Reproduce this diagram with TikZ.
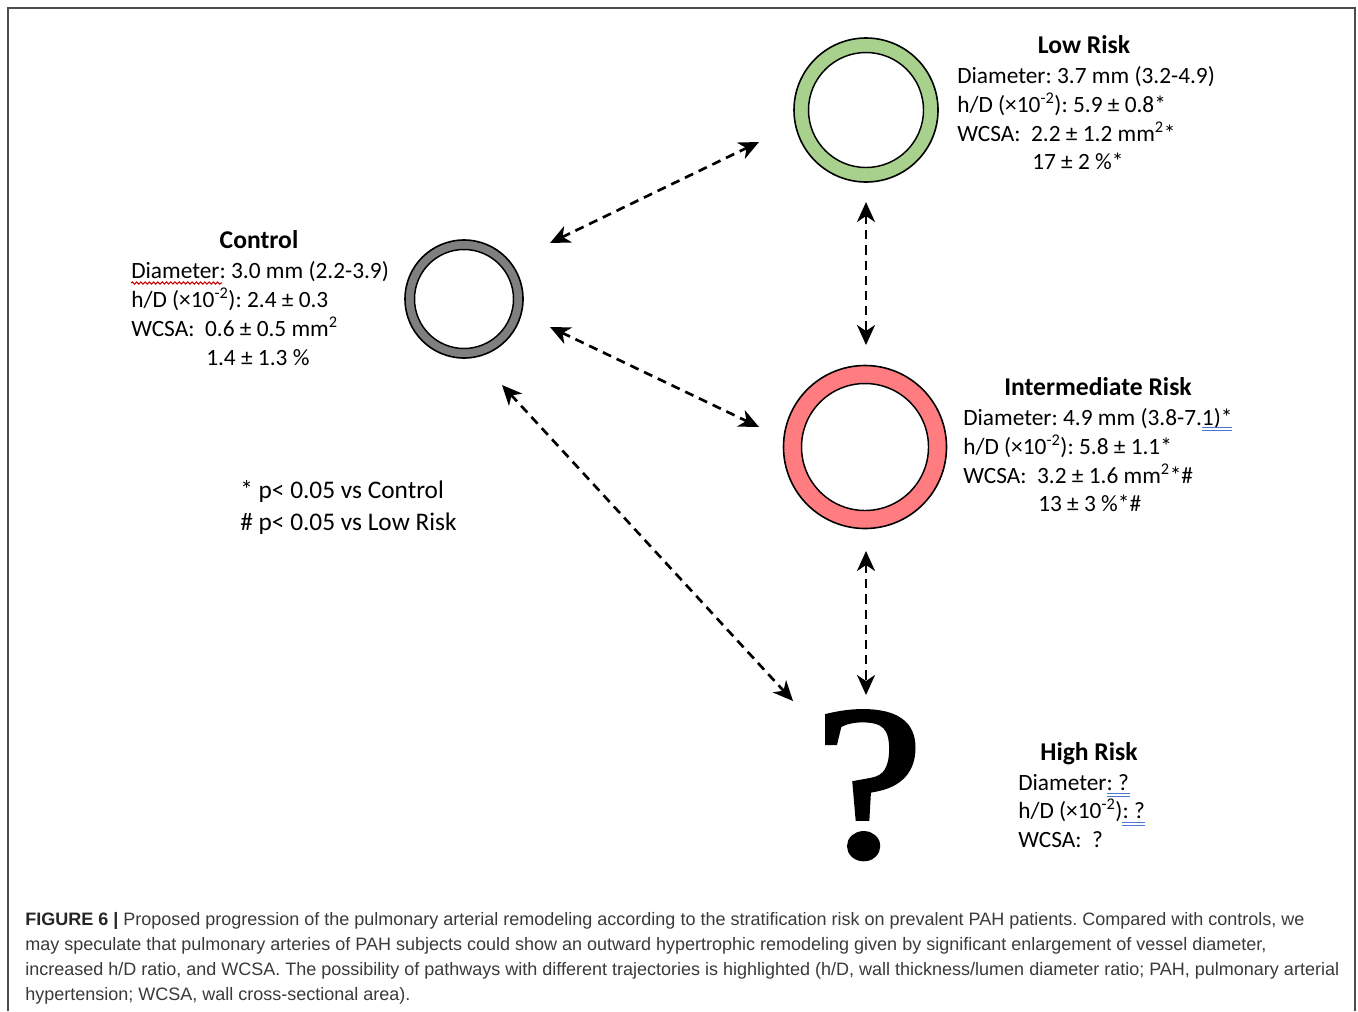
\documentclass[tikz,border=0pt]{standalone}
\usepackage{fontspec}
\setmainfont{Carlito}
\newfontfamily\capfont{Liberation Sans}
\newfontfamily\qfont[FakeBold=2,FakeStretch=1.12]{Liberation Serif}
\usetikzlibrary{arrows.meta,decorations.pathmorphing}
\definecolor{ringgray}{HTML}{7F7F7F}
\definecolor{ringgreen}{HTML}{A9D18E}
\definecolor{ringred}{HTML}{FF7C80}
\definecolor{capgray}{HTML}{3A3A3A}
\definecolor{spellblue}{HTML}{4A78D0}
\frenchspacing
\begin{document}
\frenchspacing
\begin{tikzpicture}[x=0.75pt,y=-0.75pt,
  lab/.style={anchor=base west, inner sep=0pt, font=\fontsize{17.5}{21}\selectfont},
  leg/.style={anchor=base west, inner sep=0pt, font=\fontsize{19}{23}\selectfont},
  ttl/.style={anchor=base, inner sep=0pt, font=\fontsize{19.2}{23}\selectfont\bfseries},
  ring/.style={circle, draw=black, line width=1.2pt, inner sep=0pt},
  hole/.style={circle, draw=black, line width=1.1pt, fill=white, inner sep=0pt},
  link/.style={dash pattern=on 6.8pt off 4.6pt, line width=2pt,
    {Stealth[length=15pt,width=13.5pt,inset=4.5pt]}-{Stealth[length=15pt,width=13.5pt,inset=4.5pt]}},
  capline/.style={anchor=base west, inner sep=0pt, text=capgray, font=\capfont\fontsize{13.5}{18}\selectfont},
  spellred/.style={draw=red!80!black, line width=0.8pt, decorate, decoration={snake, amplitude=0.8pt, segment length=3.2pt}},
  spelldbl/.style={draw=spellblue, line width=0.6pt, double distance=1.2pt, double=white}
]
\useasboundingbox (0,0) rectangle (1358,1011);
\fill[white] (0,0) rectangle (1358,1011);
\draw[line width=1.5pt, draw=black!70] (8,1011) -- (8,8) -- (1355,8) -- (1355,1011);

% vessels
\node[ring, fill=ringgray, minimum size=118*0.75pt] (ctrl) at (464,299) {};
\node[hole, minimum size=99*0.75pt] (ctrlin) at (ctrl.center) {};
\node[ring, fill=ringgreen, minimum size=144*0.75pt] (low) at (866,110) {};
\node[hole, minimum size=115*0.75pt] (lowin) at (low.center) {};
\node[ring, fill=ringred, minimum size=163*0.75pt] (mid) at (865,447) {};
\node[hole, minimum size=127*0.75pt] (midin) at (mid.center) {};
\node[anchor=base, inner sep=0pt, font=\qfont\fontsize{164}{164}\selectfont] (high) at (869,856) {?};

% connector ends
\coordinate (c1a) at (550,243);
\coordinate (c1b) at (759,142);
\coordinate (c2a) at (550,327);
\coordinate (c2b) at (759,427);
\coordinate (c3a) at (502,385);
\coordinate (c3b) at (793,701);
\coordinate (v1a) at (866,202);
\coordinate (v1b) at (866,345);
\coordinate (v2a) at (866,551);
\coordinate (v2b) at (866,695);
\draw[link] (c1a) -- (c1b);
\draw[link] (c2a) -- (c2b);
\draw[link] (c3a) -- (c3b);
\draw[link] (v1a) -- (v1b);
\draw[link] (v2a) -- (v2b);

% Control text
\node[ttl] (ctrlT) at (259,248) {Control};
\node[lab] (ctrl1) at (131,278) {Diameter: 3.0 mm (2.2-3.9)};
\node[lab] (ctrl2) at (131,307) {h/D (×10\textsuperscript{-2}): 2.4 ± 0.3};
\node[lab] (ctrl3) at (131,336) {WCSA:\ \ 0.6 ± 0.5 mm\textsuperscript{2}};
\node[lab] (ctrl4) at (206,365) {1.4 ± 1.3 \%};
\draw[spellred] (131,283) -- (222,283);

% Low risk text
\node[ttl] (lowT) at (1084,53) {Low Risk};
\node[lab] (low1) at (957,83) {Diameter: 3.7 mm (3.2-4.9)};
\node[lab] (low2) at (957,112) {h/D (×10\textsuperscript{-2}): 5.9 ± 0.8*};
\node[lab] (low3) at (957,141) {WCSA:\ \ 2.2 ± 1.2 mm\textsuperscript{2}*};
\node[lab] (low4) at (1032,169) {17 ± 2 \%*};

% Intermediate risk text
\node[ttl] (midT) at (1098,395) {Intermediate Risk};
\node[lab] (mid1) at (963,425) {Diameter: 4.9 mm (3.8-7.1)*};
\node[lab] (mid2) at (963,454) {h/D (×10\textsuperscript{-2}): 5.8 ± 1.1*};
\node[lab] (mid3) at (963,483) {WCSA:\ \ 3.2 ± 1.6 mm\textsuperscript{2}*\#};
\node[lab] (mid4) at (1038,511) {13 ± 3 \%*\#};
\draw[spelldbl] (1202,429) -- (1232,429);

% High risk text
\node[ttl] (highT) at (1089,760) {High Risk};
\node[lab] (high1) at (1018,790) {Diameter: ?};
\node[lab] (high2) at (1018,818) {h/D (×10\textsuperscript{-2}): ?};
\node[lab] (high3) at (1018,847) {WCSA:\ \ ?};
\draw[spelldbl] (1107,795) -- (1130,795);
\draw[spelldbl] (1122,824) -- (1145,824);

% legend
\node[leg] (leg1) at (240,498) {* p< 0.05 vs Control};
\node[leg] (leg2) at (240,530) {\# p< 0.05 vs Low Risk};

% caption
\node[capline] (cap1) at (25,925) {{\bfseries\color{black!85}FIGURE 6 |} Proposed progression of the pulmonary arterial remodeling according to the stratification risk on prevalent PAH patients. Compared with controls, we};
\node[capline] (cap2) at (25,950) {may speculate that pulmonary arteries of PAH subjects could show an outward hypertrophic remodeling given by significant enlargement of vessel diameter,};
\node[capline] (cap3) at (25,975) {increased h/D ratio, and WCSA. The possibility of pathways with different trajectories is highlighted (h/D, wall thickness/lumen diameter ratio; PAH, pulmonary arterial};
\node[capline] (cap4) at (25,1000) {hypertension; WCSA, wall cross-sectional area).};
\end{tikzpicture}
\end{document}
